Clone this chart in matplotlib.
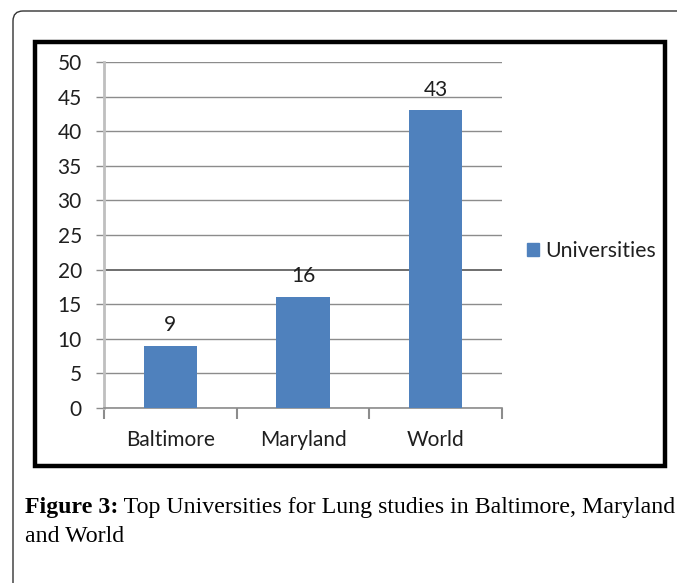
import matplotlib.pyplot as plt
from matplotlib.patches import Rectangle, FancyBboxPatch, Patch

# data
categories = ["Baltimore", "Maryland", "World"]
universities = [9, 16, 43]
y_ticks = [0, 5, 10, 15, 20, 25, 30, 35, 40, 45, 50]
series_name = "Universities"
caption_bold = "Figure 3:"
caption_text = " Top Universities for Lung studies in Baltimore, Maryland"
caption_line2 = "and World"

W, H = 677, 583
fig = plt.figure(figsize=(W / 100, H / 100), dpi=100)
sans = ["Lato", "DejaVu Sans"]
txt_col = "#1f1f1f"

def fx(px):
    return px / W

def fy(py):
    return 1 - py / H

# outer rounded frame (pixel coords)
outer = FancyBboxPatch((13, -40), 740, H - 11 + 40, boxstyle="round,pad=0,rounding_size=10",
                       transform=None, fill=False, edgecolor="#333333", linewidth=1.0)
fig.patches.append(outer)

# black box round the chart
box = Rectangle((fx(35), fy(466)), fx(665) - fx(35), fy(42) - fy(466), transform=fig.transFigure,
                fill=False, edgecolor="black", linewidth=3.2)
fig.patches.append(box)

ax = fig.add_axes([fx(104), fy(408), fx(502) - fx(104), fy(62) - fy(408)])
x = list(range(len(categories)))
bars = ax.bar(x, universities, width=0.4, color="#4F81BD", zorder=3)

ax.set_xlim(-0.5, len(categories) - 0.5)
ax.set_ylim(0, 50)
ax.set_yticks(y_ticks)
ax.yaxis.grid(True, color="#8c8c8c", linewidth=1.0, zorder=0)
ax.get_ygridlines()[4].set_color("#6e6e6e")
ax.get_ygridlines()[4].set_linewidth(1.4)
ax.tick_params(axis="y", length=6, color="#8c8c8c", width=1.0, pad=10,
               labelsize=15, labelcolor=txt_col)

# category boundaries as major ticks, labels on minor ticks
ax.set_xticks([i - 0.5 for i in range(len(categories) + 1)])
ax.set_xticklabels([])
ax.set_xticks(x, minor=True)
ax.set_xticklabels(categories, minor=True)
ax.tick_params(axis="x", which="major", length=8, color="#8c8c8c", width=1.5)
ax.tick_params(axis="x", which="minor", length=0, pad=16, labelsize=15, labelcolor=txt_col)

for s in ["top", "right"]:
    ax.spines[s].set_visible(False)
ax.spines["left"].set_color("#bfbfbf")
ax.spines["left"].set_linewidth(2.0)
ax.spines["bottom"].set_color("#8c8c8c")
ax.spines["bottom"].set_linewidth(1.2)

for rect, v in zip(bars, universities):
    ax.annotate(str(v), (rect.get_x() + rect.get_width() / 2, v), xytext=(0, 15),
                textcoords="offset points", ha="center", va="center",
                fontsize=15, color=txt_col)

for t in ax.get_xticklabels(minor=True) + ax.get_yticklabels():
    t.set_family(sans)
for t in ax.texts:
    t.set_family(sans)

leg = fig.legend(handles=[Patch(color="#4F81BD", label=series_name)],
                 loc="center left", bbox_to_anchor=(fx(527), fy(251)),
                 frameon=False, borderpad=0, borderaxespad=0,
                 handlelength=0.55, handleheight=0.55, handletextpad=0.3,
                 prop={"family": sans, "size": 15.3})
for t in leg.get_texts():
    t.set_color(txt_col)

# caption
t1 = fig.text(fx(25), fy(508), caption_bold, fontsize=17.2, fontweight="bold",
              family="Liberation Serif", va="center", ha="left")
fig.canvas.draw()
bb = t1.get_window_extent()
fig.text(bb.x1 / W, fy(508), caption_text, fontsize=17.2, family="Liberation Serif",
         va="center", ha="left")
fig.text(fx(25), fy(537), caption_line2, fontsize=17.2, family="Liberation Serif",
         va="center", ha="left")

fig.savefig("out.png", dpi=100)
